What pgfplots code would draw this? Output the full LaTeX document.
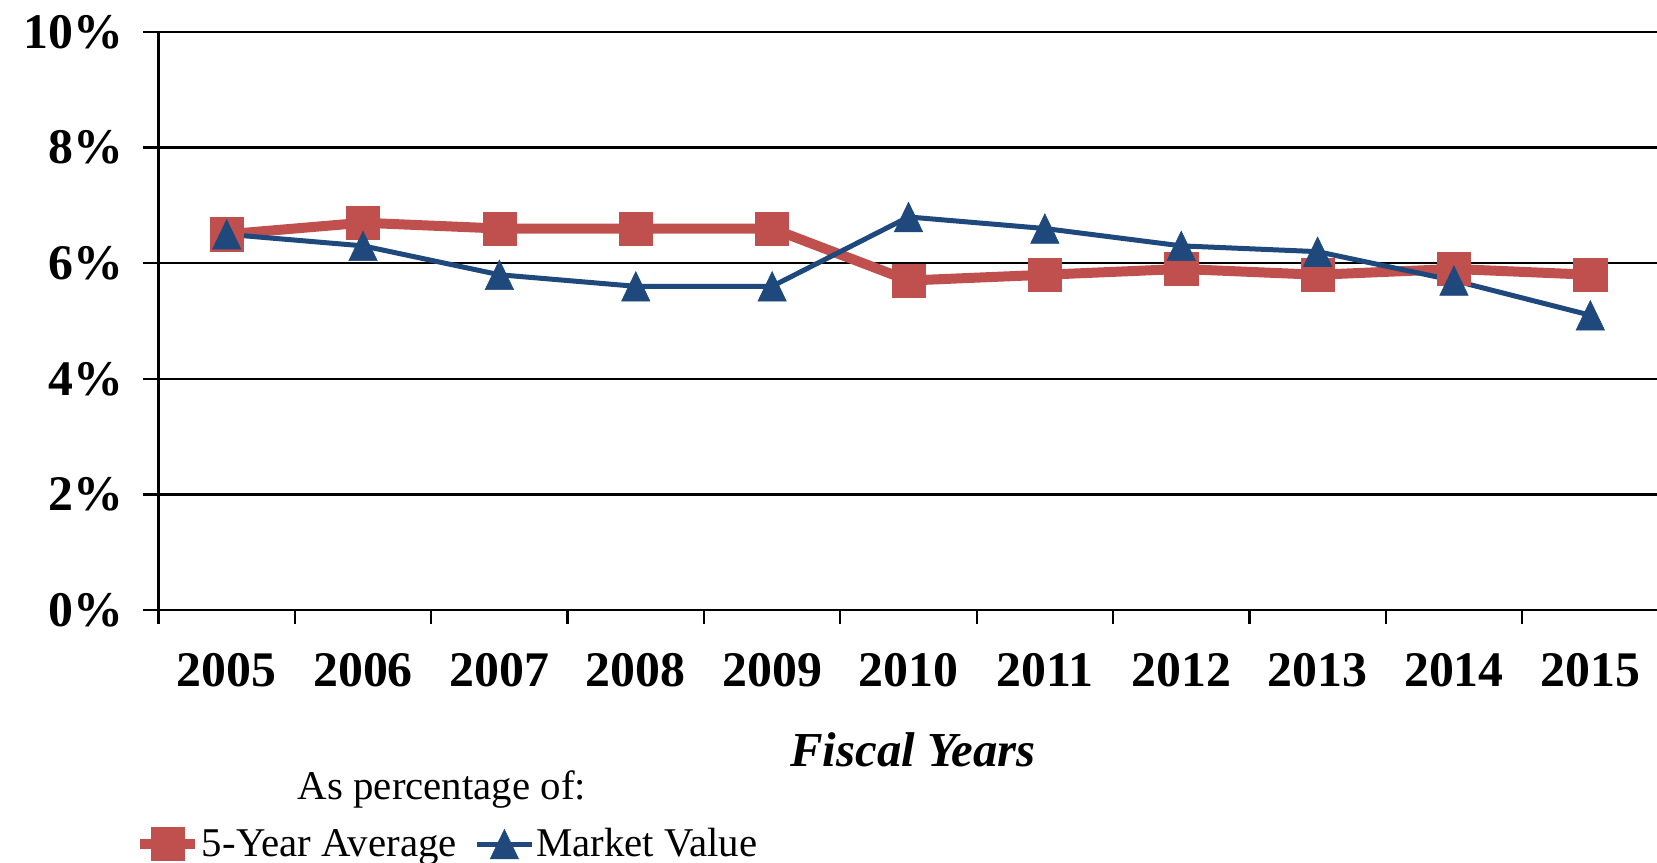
\documentclass[border=0pt]{standalone}
\usepackage{fontspec}
\setmainfont{Liberation Serif}
\usepackage{pgfplots}
\pgfplotsset{compat=1.18}
\definecolor{avgred}{HTML}{C0504D}
\definecolor{mvblue}{HTML}{1F497D}

\begin{document}
\begin{tikzpicture}
\begin{axis}[
  width=750bp, height=289bp, scale only axis,
  xmin=-0.5, xmax=10.5, ymin=0, ymax=10,
  axis lines*=left,
  axis line style={black, line width=1.1bp},
  clip=false,
  ymajorgrids,
  major grid style={black, line width=1.1bp},
  tick align=outside,
  major tick length=7.5bp,
  minor tick length=7bp,
  tick style={black, line width=1.1bp},
  xtick={0,...,10},
  xticklabels={2005,2006,2007,2008,2009,2010,2011,2012,2013,2014,2015},
  minor xtick={-0.5,0.5,...,10.5},
  major x tick style={draw=none},
  ytick={0,2,...,10},
  yticklabels={0\%,2\%,4\%,6\%,8\%,10\%},
  ticklabel style={font=\fontsize{25}{30}\selectfont\bfseries},
  xticklabel style={yshift=-10.8bp},
  yticklabel style={xshift=-6.7bp},
  legend columns=-1,
  legend style={at={(-0.01567,-0.405)}, anchor=west, draw=none, fill=none,
    inner sep=0pt, font=\fontsize{20.5}{24}\selectfont,
    nodes={inner sep=0.8bp},
    /tikz/every even column/.append style={column sep=8bp}},
  legend image code/.code={
    \draw[mark repeat=2,mark phase=2,#1] plot coordinates {(0bp,0bp) (13.75bp,0bp) (27.5bp,0bp)};},
]
\addplot[avgred, line width=5bp, mark=square*, mark size=8.3bp,
  mark options={solid, line width=0.3bp}] coordinates {
  (0,6.5) (1,6.7) (2,6.6) (3,6.6) (4,6.6) (5,5.7)
  (6,5.8) (7,5.9) (8,5.8) (9,5.9) (10,5.8)
};
\addlegendentry{5-Year Average}
\addplot[mvblue, line width=2.5bp, mark=triangle*, mark size=8.2bp,
  mark options={solid, line width=0.3bp, yshift=-2.5bp, yscale=1.2}] coordinates {
  (0,6.5) (1,6.3) (2,5.8) (3,5.6) (4,5.6) (5,6.8)
  (6,6.6) (7,6.3) (8,6.2) (9,5.7) (10,5.1)
};
\addlegendentry{Market Value}
\node[font=\fontsize{24.5}{29}\selectfont\bfseries\itshape] at (axis description cs:0.503,-0.242) {Fiscal Years};
\node[font=\fontsize{20.5}{24}\selectfont] at (axis description cs:0.189,-0.311) {As percentage of:};
\end{axis}
\pgfresetboundingbox
\path (-79.25bp,-126.5bp) rectangle (749.25bp,305bp);
\end{tikzpicture}
\end{document}
